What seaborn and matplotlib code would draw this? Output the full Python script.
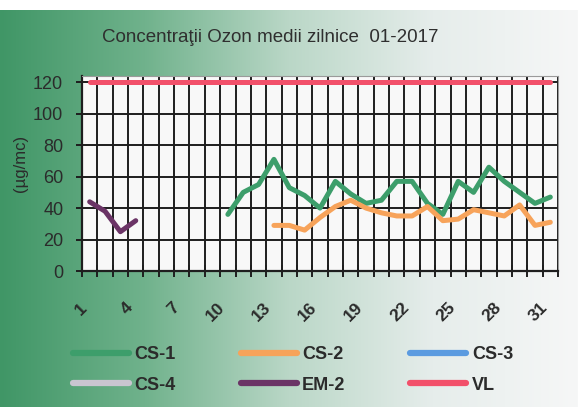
import numpy as np
import pandas as pd
import matplotlib
matplotlib.use('Agg')
import matplotlib.pyplot as plt
import matplotlib.transforms as mtransforms
from matplotlib.lines import Line2D
import seaborn as sns

# daily ozone averages, January 2017
days = list(range(1, 32))
nan = np.nan
cs1 = [nan] * 9 + [36, 50, 55, 71, 53, 48, 40, 57, 49, 43, 45, 57, 57, 43, 36,
                   57, 50, 66, 57, 50, 43, 47]
cs2 = [nan] * 12 + [29, 29, 26, 34, 41, 45, 40, 37, 35, 35, 41, 32, 33, 39,
                    37, 35, 42, 29, 31]
cs3 = [nan] * 31
cs4 = [nan] * 31
em2 = [44, 38, 25, 32] + [nan] * 27
vl = [120] * 31

names = ['CS-1', 'CS-2', 'CS-3', 'CS-4', 'EM-2', 'VL']
colors = {'CS-1': '#3d9e6b', 'CS-2': '#f7a35a', 'CS-3': '#5b9be0',
          'CS-4': '#c9c5d0', 'EM-2': '#6b3466', 'VL': '#f2506a'}
xlabels = list(range(1, 32, 3))

df = pd.DataFrame({'day': days, 'CS-1': cs1, 'CS-2': cs2, 'CS-3': cs3,
                   'CS-4': cs4, 'EM-2': em2, 'VL': vl})
df = df.melt(id_vars='day', var_name='statie', value_name='val').dropna()

plt.rcParams['font.family'] = ['Liberation Sans', 'DejaVu Sans']

fig = plt.figure(figsize=(5.78, 4.07), dpi=100)

# green -> white panel behind the chart
bg = fig.add_axes([0, 0, 1, 397 / 407], zorder=-5)
xs = np.linspace(0, 1, 578)
stops = [0, 0.25, 0.5, 0.75, 1.0]
rgb = np.array([[64, 150, 102], [112, 178, 140], [186, 215, 199],
                [230, 237, 235], [246, 247, 247]]) / 255
grad = np.stack([np.interp(xs, stops, rgb[:, c]) for c in range(3)], axis=-1)
bg.imshow(np.repeat(grad[None, :, :], 4, axis=0), aspect='auto')
bg.axis('off')

ax = fig.add_axes([82 / 578, 1 - 271 / 407, 476 / 578, 195 / 407])
ax.set_facecolor('#f8f8f8')

sns.lineplot(data=df, x='day', y='val', hue='statie', palette=colors,
             linewidth=3.6, legend=False, estimator=None, ax=ax)
for ln in ax.lines:
    ln.set_solid_joinstyle('round')
    ln.set_solid_capstyle('round')

ax.set_xlim(0.5, 31.5)
ax.set_ylim(0, 124)
ax.set_yticks(range(0, 121, 20))
ax.set_xticks(xlabels)
ax.set_xticks(np.arange(0.5, 32, 1), minor=True)
ax.set_xticklabels([str(d) for d in xlabels], rotation=45, ha='right',
                   va='top', fontweight='bold', fontsize=12.5, color='#2b2b2b')
off = mtransforms.ScaledTranslation(-10 / 100, 0, fig.dpi_scale_trans)
for lab in ax.get_xticklabels():
    lab.set_transform(lab.get_transform() + off)

ax.tick_params(axis='x', which='major', length=0, pad=21)
ax.tick_params(axis='x', which='minor', direction='inout', length=9,
               width=1.4, color='#1e1e1e')
ax.tick_params(axis='y', direction='out', length=4.5, width=1.4,
               color='#1e1e1e', labelsize=13, labelcolor='#2b2b2b', pad=9)

ax.set_axisbelow(True)
ax.grid(which='minor', axis='x', color='#1e1e1e', lw=1.4)
ax.grid(which='major', axis='y', color='#1e1e1e', lw=1.4)
ax.grid(which='major', axis='x', visible=False)

for s in ['left', 'bottom']:
    ax.spines[s].set_color('#1e1e1e')
    ax.spines[s].set_linewidth(1.6)
for s in ['top', 'right']:
    ax.spines[s].set_color('#9a9a9a')
    ax.spines[s].set_linewidth(0.8)

ax.set_xlabel('')
ax.set_ylabel('(µg/mc)', fontsize=12, color='#2b2b2b')
ax.yaxis.set_label_coords(-0.113, 0.554)

fig.text(270 / 578, 1 - 38 / 407, 'Concentraţii Ozon medii zilnice  01-2017',
         ha='center', va='center', fontsize=13.5, color='#2f2f2f')

# legend: two rows of three, filled column by column
order = ['CS-1', 'CS-4', 'CS-2', 'EM-2', 'CS-3', 'VL']
handles = [Line2D([], [], color=colors[n], lw=4.5, solid_capstyle='round')
           for n in order]
fig.legend(handles, order, ncol=3, loc='center',
           bbox_to_anchor=(293 / 578, 1 - 370 / 407), frameon=False,
           prop={'weight': 'bold', 'size': 13}, handlelength=3.1,
           handletextpad=0.3, columnspacing=3.6, labelspacing=0.75,
           labelcolor='#2b2b2b')

fig.savefig('out.png', dpi=100)
